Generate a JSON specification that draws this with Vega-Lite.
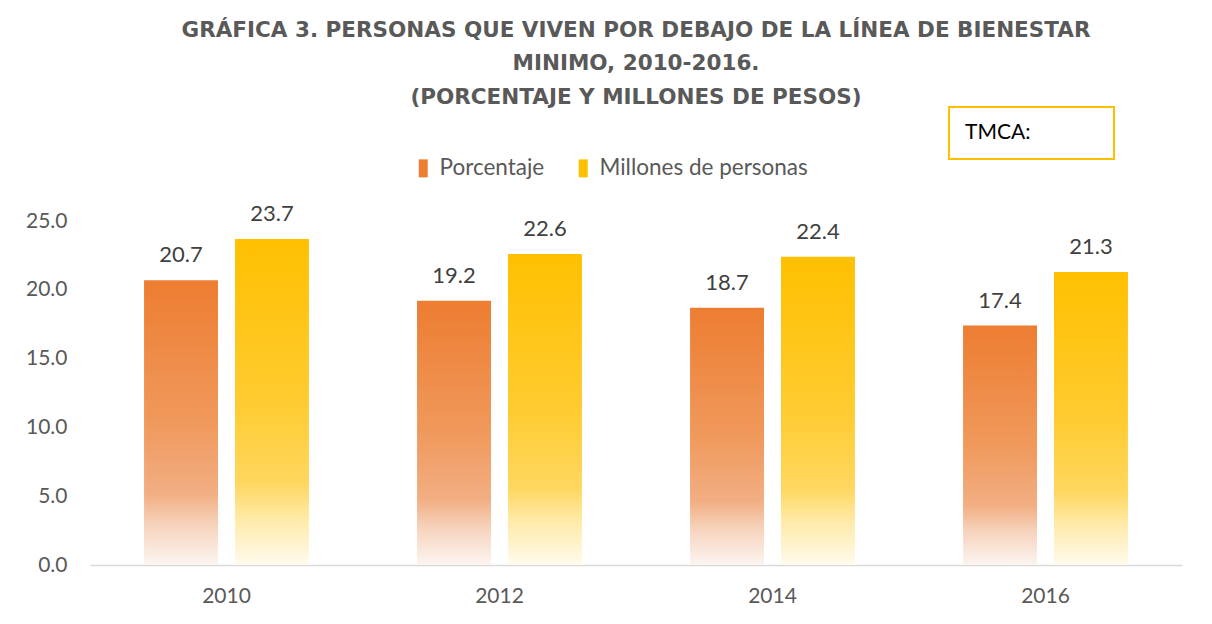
{
  "$schema": "https://vega.github.io/schema/vega-lite/v6.json",
  "autosize": "none",
  "width": 1092,
  "height": 344,
  "padding": {"left": 90, "top": 221, "right": 30, "bottom": 59},
  "background": "white",
  "title": {
    "text": ["GRÁFICA 3. PERSONAS QUE VIVEN POR DEBAJO DE LA LÍNEA DE BIENESTAR", "MINIMO, 2010-2016.", "(PORCENTAJE Y MILLONES DE PESOS)"],
    "font": "DejaVu Sans",
    "fontSize": 21.5,
    "fontWeight": "bold",
    "color": "#595959",
    "lineHeight": 33.5,
    "anchor": "middle",
    "frame": "group",
    "offset": -2
  },
  "config": {
    "view": {"stroke": null},
    "font": "Lato",
    "legend": {"strokeColor": "#FFC000", "strokeWidth": 2}
  },
  "data": {
    "values": [
      {"anio": "2010", "serie": "Porcentaje", "valor": 20.7},
      {"anio": "2010", "serie": "Millones de personas", "valor": 23.7},
      {"anio": "2012", "serie": "Porcentaje", "valor": 19.2},
      {"anio": "2012", "serie": "Millones de personas", "valor": 22.6},
      {"anio": "2014", "serie": "Porcentaje", "valor": 18.7},
      {"anio": "2014", "serie": "Millones de personas", "valor": 22.4},
      {"anio": "2016", "serie": "Porcentaje", "valor": 17.4},
      {"anio": "2016", "serie": "Millones de personas", "valor": 21.3}
    ]
  },
  "encoding": {
    "x": {
      "field": "anio", "type": "nominal",
      "scale": {"paddingInner": 0.396, "paddingOuter": 0.198},
      "axis": {"title": null, "labelAngle": 0, "ticks": false, "domainColor": "#D9D9D9", "domainWidth": 1.5, "labelFont": "Lato", "labelFontSize": 21, "labelColor": "#595959", "labelPadding": 20}
    },
    "xOffset": {
      "field": "serie", "type": "nominal",
      "scale": {"domain": ["Porcentaje", "Millones de personas"], "paddingInner": 0.187, "paddingOuter": 0}
    },
    "y": {
      "field": "valor", "type": "quantitative",
      "scale": {"domain": [0, 25]},
      "axis": {"title": null, "values": [0, 5, 10, 15, 20, 25], "format": ".1f", "grid": false, "domain": false, "ticks": false, "labelFont": "Lato", "labelFontSize": 21, "labelColor": "#595959", "labelPadding": 23}
    }
  },
  "layer": [
    {
      "transform": [{"filter": "datum.serie === 'Porcentaje'"}],
      "mark": {"type": "bar", "fill": {"gradient": "linear", "x1": 0, "y1": 0, "x2": 0, "y2": 1, "stops": [
                {"offset": 0, "color": "#ED7D31"},
                {"offset": 0.5, "color": "#F0995C"},
                {"offset": 0.75, "color": "#F2AE82"},
                {"offset": 0.86, "color": "#F6D3BC"},
                {"offset": 1, "color": "#FCF5F1"}]}}
    },
    {
      "transform": [{"filter": "datum.serie === 'Millones de personas'"}],
      "mark": {"type": "bar", "fill": {"gradient": "linear", "x1": 0, "y1": 0, "x2": 0, "y2": 1, "stops": [
                {"offset": 0, "color": "#FFC000"},
                {"offset": 0.5, "color": "#FFCB30"},
                {"offset": 0.75, "color": "#FFD75F"},
                {"offset": 0.86, "color": "#FFEAA8"},
                {"offset": 1, "color": "#FFFBEE"}]}}
    },
    {
      "mark": {"type": "point", "filled": true, "size": 0},
      "encoding": {
        "fill": {
          "field": "serie", "type": "nominal",
          "scale": {"domain": ["Porcentaje", "Millones de personas"], "range": ["#ED7D31", "#FFC000"]},
          "legend": {
            "title": null, "orient": "none", "direction": "horizontal",
            "legendX": 322, "legendY": -64,
            "strokeColor": "transparent",
            "symbolType": "M-0.5,-1H0.5V1H-0.5Z", "symbolSize": 324, "symbolStrokeWidth": 0, "symbolOpacity": 1,
            "labelFont": "Lato", "labelFontSize": 22.5, "labelColor": "#595959", "labelOffset": 5, "labelLimit": 500,
            "columnPadding": 27
          }
        },
        "strokeDash": {
          "datum": "TMCA", "type": "nominal",
          "legend": {
            "title": "TMCA:", "titleOrient": "left", "titleFont": "Lato", "titleFontSize": 21, "titleFontWeight": "normal", "titleColor": "#000000", "titlePadding": 43,
            "orient": "none", "legendX": 859, "legendY": -114,
            "strokeColor": "#FFC000", "padding": 16,
            "symbolOpacity": 0, "symbolType": "square", "symbolSize": 400, "symbolStrokeWidth": 0,
            "labelExpr": "''"
          }
        }
      }
    },
    {
      "mark": {"type": "text", "baseline": "middle", "dy": -25, "font": "Lato", "fontSize": 22, "color": "#404040"},
      "encoding": {
        "text": {"field": "valor", "type": "quantitative", "format": ".1f"}
      }
    }
  ]
}
